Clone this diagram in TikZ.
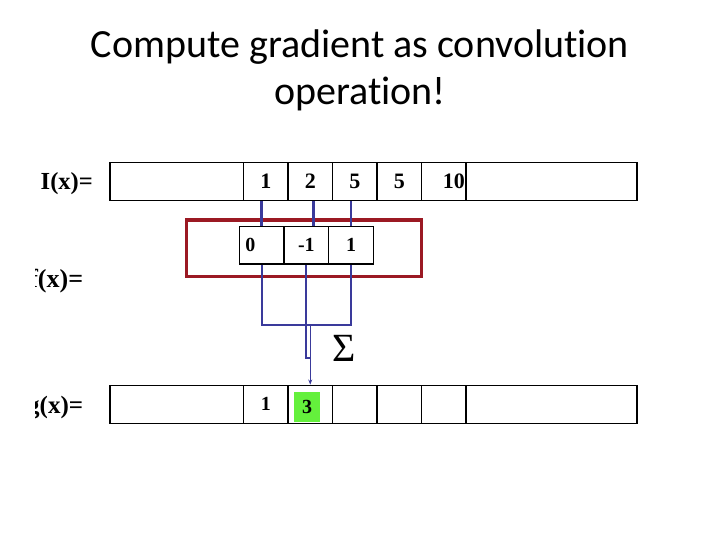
\documentclass[tikz,border=0pt]{standalone}
\usepackage{fontspec}
\setmainfont{Liberation Serif}
\newfontfamily\titlefont[Ligatures=NoCommon]{Carlito}
\usetikzlibrary{arrows.meta}
\definecolor{wireblue}{RGB}{58,58,155}
\definecolor{boxred}{RGB}{155,25,35}
\definecolor{hlgreen}{RGB}{100,240,60}

\begin{document}
\begin{tikzpicture}[x=1pt,y=-1pt,
  cell/.style={draw=black, line width=1.5pt, inner sep=0pt, minimum height=38pt, font=\fontsize{22}{22}\selectfont\bfseries},
  kcell/.style={draw=black, line width=1.2pt, inner sep=0pt, minimum width=44.7pt, minimum height=37.3pt, font=\fontsize{20}{20}\selectfont\bfseries},
  lbl/.style={anchor=east, inner sep=0pt, font=\fontsize{25}{25}\selectfont\bfseries},
  wire/.style={wireblue, line width=2pt}]
\useasboundingbox (0,0) rectangle (720,540);
\node[font=\titlefont\fontsize{40}{48}\selectfont, anchor=base] (title1) at (360,58) {Compute gradient as convolution};
\node[font=\titlefont\fontsize{40}{48}\selectfont, anchor=base] (title2) at (360,105) {operation!};
% labels, cut at the left edge
\begin{scope}
\clip (35,0) rectangle (720,540);
\node[lbl, font=\fontsize{24.5}{25}\selectfont\bfseries] (lblI) at (93,183.3) {I(x)=};
\node[lbl, font=\fontsize{26}{26}\selectfont\bfseries] (lblf) at (83.3,281) {f(x)=};
\node[lbl] (lblg) at (83.3,407.5) {g(x)=};
\end{scope}
% input row
\node[cell, minimum width=133.5pt] (I0) at (176.75,181.7) {};
\node[cell, minimum width=44.5pt] (I1) at (265.75,181.7) {1};
\node[cell, minimum width=44.5pt] (I2) at (310.25,181.7) {2};
\node[cell, minimum width=44.5pt] (I3) at (354.75,181.7) {5};
\node[cell, minimum width=44.5pt] (I4) at (399.25,181.7) {5};
\node[cell, minimum width=44.5pt, text width=42pt, align=right] (I5) at (443.75,181.7) {10};
\node[cell, minimum width=171pt] (I6) at (551.5,181.7) {};
% filter
\node[draw=boxred, line width=3.5pt, minimum width=235pt, minimum height=56.7pt, inner sep=0pt] (filt) at (304.2,248.35) {};
\node[kcell, text width=32.7pt, align=left] (k1) at (261.65,245.35) {0};
\node[kcell] (k2) at (306.35,245.35) {-1};
\node[kcell] (k3) at (351.05,245.35) {1};
% output row
\node[cell, minimum width=133.5pt] (g0) at (176.75,404.3) {};
\node[cell, minimum width=44.5pt, font=\fontsize{20}{20}\selectfont\bfseries] (g1) at (265.75,404.3) {1};
\node[cell, minimum width=44.5pt] (g2) at (310.25,404.3) {};
\node[cell, minimum width=44.5pt] (g3) at (354.75,404.3) {};
\node[cell, minimum width=44.5pt] (g4) at (399.25,404.3) {};
\node[cell, minimum width=44.5pt] (g5) at (443.75,404.3) {};
\node[cell, minimum width=171pt] (g6) at (551.5,404.3) {};
\node[fill=hlgreen, minimum width=25.7pt, minimum height=30pt, inner sep=0pt, font=\fontsize{20}{20}\selectfont\bfseries] (hl) at (307.15,406.7) {3};
% wires
\draw[wire, line width=2.8pt] (k1.north) -- (k1.north |- I1.south);
\draw[wire, line width=2.8pt] ([xshift=7pt]k2.north) -- ([xshift=7pt]k2.north |- I2.south);
\draw[wire, line width=2.8pt] (k3.north) -- (k3.north |- I3.south);
\draw[wire] (k1.south) -- ++(0,60) -| (k3.south);
\draw[wire] (k2.south) -- ++(0,93) -- ++(3.9,0);
\path (k2.south) ++(0,60) coordinate (sum);
\draw[wire, line width=1.5pt, -{Stealth[length=5pt,width=4pt]}] (sum -| g2.north) -- (g2.north);
\node[font=\fontsize{40}{40}\selectfont, inner sep=0pt] (sig) at (344.5,348) {Σ};
\end{tikzpicture}
\end{document}
